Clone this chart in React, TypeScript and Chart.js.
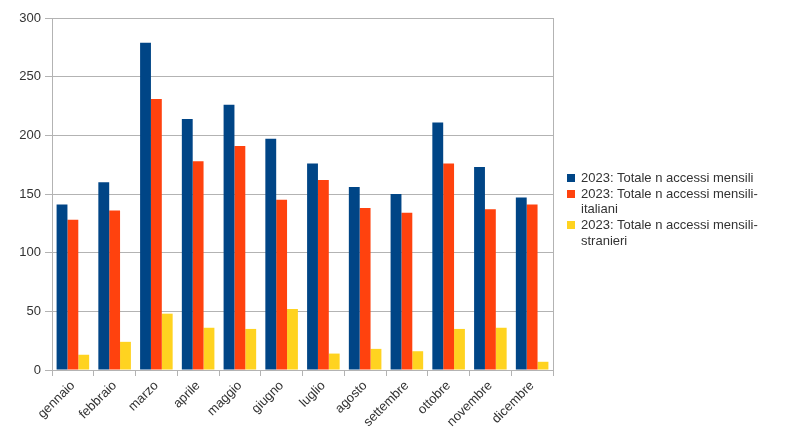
import React, { useEffect, useRef } from "react";
import { Chart, registerables } from "chart.js";

Chart.register(...registerables);

const categories = ["gennaio", "febbraio", "marzo", "aprile", "maggio", "giugno", "luglio", "agosto", "settembre", "ottobre", "novembre", "dicembre"];
const totale = [141, 160, 279, 214, 226, 197, 176, 156, 150, 211, 173, 147];
const italiani = [128, 136, 231, 178, 191, 145, 162, 138, 134, 176, 137, 141];
const stranieri = [13, 24, 48, 36, 35, 52, 14, 18, 16, 35, 36, 7];
const seriesNames = [
  ["2023: Totale n accessi mensili"],
  ["2023: Totale n accessi mensili-", "italiani"],
  ["2023: Totale n accessi mensili-", "stranieri"],
];
const colors = ["#004586", "#ff420e", "#ffd320"];

const borderPlugin = {
  id: "wallBorder",
  afterDraw(chart: any) {
    const { ctx, chartArea } = chart;
    ctx.save();
    ctx.strokeStyle = "#b3b3b3";
    ctx.lineWidth = 1;
    ctx.beginPath();
    ctx.moveTo(Math.round(chartArea.right) + 0.5, chartArea.top);
    ctx.lineTo(Math.round(chartArea.right) + 0.5, chartArea.bottom);
    ctx.stroke();
    ctx.restore();
  },
};

export default function App() {
  const ref = useRef<HTMLCanvasElement>(null);
  useEffect(() => {
    const font = { family: "'Liberation Sans', Arial, sans-serif", size: 13 };
    const chart = new Chart(ref.current!, {
      type: "bar",
      data: {
        labels: categories,
        datasets: [totale, italiani, stranieri].map((d, i) => ({
          label: seriesNames[i].join(" "),
          data: d,
          backgroundColor: colors[i],
          borderWidth: 0,
          barPercentage: 1,
          categoryPercentage: 0.78,
        })),
      },
      options: {
        animation: false,
        responsive: false,
        layout: { padding: { left: 0, right: 247, top: 18, bottom: 0 } },
        plugins: { legend: { display: false }, tooltip: { enabled: false } },
        scales: {
          x: {
            grid: { offset: true, drawOnChartArea: false, color: "#b3b3b3", tickLength: 6 },
            border: { color: "#b3b3b3" },
            ticks: { minRotation: 45, maxRotation: 45, color: "#333", font, padding: 2 },
            afterFit: (s: any) => { s.height = 78; },
          },
          y: {
            min: 0,
            max: 300,
            ticks: { stepSize: 50, color: "#333", font, padding: 4 },
            grid: { color: "#b3b3b3", tickLength: 7 },
            border: { color: "#b3b3b3" },
            afterFit: (s: any) => { s.width = 52; },
          },
        },
      },
      plugins: [borderPlugin],
    });
    return () => chart.destroy();
  }, []);

  return (
    <div style={{ position: "fixed", left: 0, top: 0, width: 800, height: 448, background: "#fff" }}>
      <canvas ref={ref} width={800} height={448} style={{ width: 800, height: 448, display: "block" }} />
      <div
        style={{
          position: "absolute",
          left: 567,
          top: 170,
          fontFamily: "'Liberation Sans', Arial, sans-serif",
          fontSize: 13,
          lineHeight: "15.7px",
          color: "#333",
        }}
      >
        {seriesNames.map((lines, i) => (
          <div key={i} style={{ display: "flex", alignItems: "flex-start" }}>
            <div style={{ width: 8, height: 8, background: colors[i], marginTop: 4, marginRight: 6, flex: "none" }} />
            <div>
              {lines.map((l, j) => (
                <div key={j}>{l}</div>
              ))}
            </div>
          </div>
        ))}
      </div>
    </div>
  );
}
